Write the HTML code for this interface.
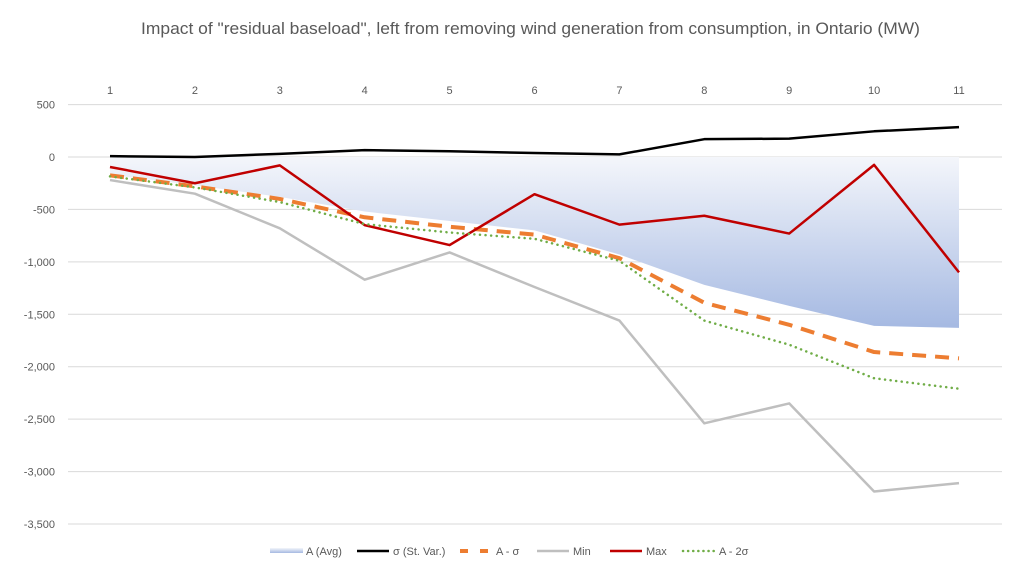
<!DOCTYPE html>
<html><head><meta charset="utf-8"><style>
body{margin:0;background:#fff;}
svg{display:block;font-family:"Liberation Sans",Calibri,sans-serif;}
</style></head><body>
<svg id="c" width="1021" height="572"></svg>
<script>
const categories=[1,2,3,4,5,6,7,8,9,10,11];
const avgA=[-170,-270,-380,-520,-610,-700,-930,-1220,-1420,-1610,-1630];
const sigma=[8,0,30,65,55,38,25,170,175,245,285];
const aMinusSigma=[-175,-280,-400,-575,-665,-740,-965,-1390,-1600,-1860,-1920];
const minVals=[-220,-350,-680,-1170,-910,-1240,-1560,-2540,-2350,-3190,-3110];
const maxVals=[-95,-250,-80,-650,-840,-355,-645,-560,-730,-75,-1100];
const aMinus2Sigma=[-185,-290,-430,-640,-720,-780,-990,-1560,-1790,-2110,-2210];
const yTicks=[500,0,-500,-1000,-1500,-2000,-2500,-3000,-3500];
const yTickLabels=["500","0","-500","-1,000","-1,500","-2,000","-2,500","-3,000","-3,500"];

const NS="http://www.w3.org/2000/svg";
const svg=document.getElementById('c');
const X=i=>110+i*84.9;
const Y=v=>157-v*0.10486;
function mk(t,a,p){const e=document.createElementNS(NS,t);for(const k in a)e.setAttribute(k,a[k]);(p||svg).appendChild(e);return e;}

const defs=mk('defs',{});
const g=mk('linearGradient',{id:'ag',x1:0,y1:0,x2:0,y2:1},defs);
mk('stop',{offset:'0','stop-color':'#f4f6fb'},g);
mk('stop',{offset:'1','stop-color':'#a5b9e2'},g);

const title=mk('text',{x:141,y:34,'font-size':'16.5',fill:'#595959',textLength:779,lengthAdjust:'spacingAndGlyphs'});
title.textContent='Impact of "residual baseload", left from removing wind generation from consumption, in Ontario (MW)';



yTicks.forEach((v,i)=>{
  const l=mk('line',{x1:68,x2:1002,y1:Y(v),y2:Y(v),stroke:'#d9d9d9','stroke-width':1});
  
  
  const t=mk('text',{x:55,y:Y(v)+4,'text-anchor':'end','font-size':'11',fill:'#595959'});
  t.textContent=yTickLabels[i];
  
  
});
categories.forEach((c,i)=>{
  const t=mk('text',{x:X(i),y:94,'text-anchor':'middle','font-size':'11',fill:'#595959'});
  t.textContent=c;
  
  
});

let d='M'+X(0)+','+Y(0);
avgA.forEach((v,i)=>d+=' L'+X(i)+','+Y(v));
d+=' L'+X(avgA.length-1)+','+Y(0)+' Z';
const area=mk('path',{d:d,fill:'url(#ag)'});



function line(arr,color,w,dash,name,cap){
  const pts=arr.map((v,i)=>X(i)+','+Y(v)).join(' ');
  const p=mk('polyline',{points:pts,fill:'none',stroke:color,'stroke-width':w,'stroke-linejoin':'round','stroke-linecap':cap||'butt'});
  if(dash)p.setAttribute('stroke-dasharray',dash);
  
  
}
line(minVals,'#bfbfbf',2.5,null,'line-min');
line(sigma,'#000000',2.5,null,'line-sigma');
line(aMinusSigma,'#ed7d31',4,'14 9','line-a-minus-sigma');
line(maxVals,'#c00000',2.5,null,'line-max');
line(aMinus2Sigma,'#70ad47',2.5,'0.1 5.5','line-a-minus-2sigma','round');

const leg=[
 {x:270,label:'A (Avg)',type:'area'},
 {x:357,label:'σ (St. Var.)',color:'#000',w:2.5},
 {x:460,label:'A - σ',color:'#ed7d31',w:4,dash:'8 12'},
 {x:537,label:'Min',color:'#bfbfbf',w:2.5},
 {x:610,label:'Max',color:'#c00000',w:2.5},
 {x:683,label:'A - 2σ',color:'#70ad47',w:2.5,dash:'0.1 5',cap:'round'}
];
leg.forEach(e=>{
  const grp=mk('g',{});
  
  
  if(e.type==='area'){mk('rect',{x:e.x,y:548,width:33,height:5,fill:'url(#ag)'},grp);}
  else{const l=mk('line',{x1:e.x,x2:e.x+32,y1:551,y2:551,stroke:e.color,'stroke-width':e.w,'stroke-linecap':e.cap||'butt'},grp);if(e.dash)l.setAttribute('stroke-dasharray',e.dash);}
  const t=mk('text',{x:e.x+36,y:555,'font-size':'11',fill:'#595959'},grp);
  t.textContent=e.label;
});
</script>
</body></html>
